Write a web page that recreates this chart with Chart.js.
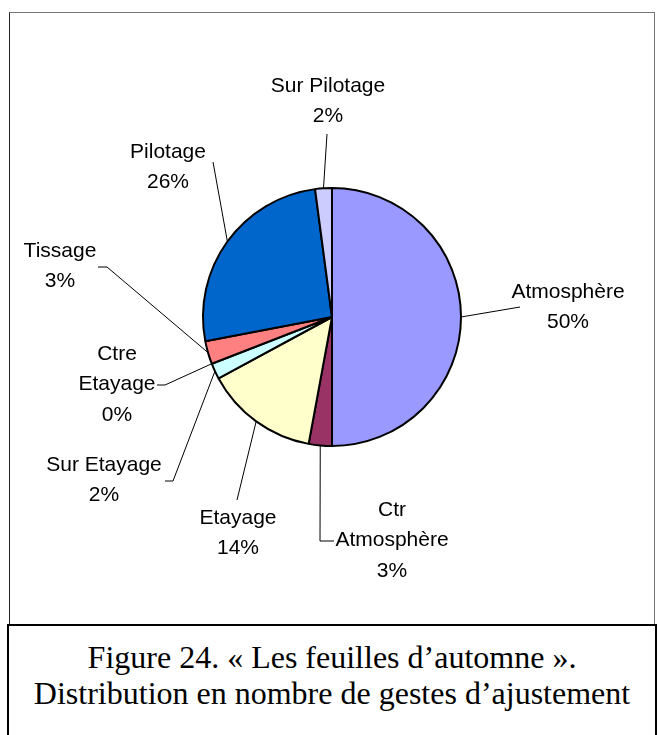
<!DOCTYPE html>
<html>
<head>
<meta charset="utf-8">
<script src="https://cdn.jsdelivr.net/npm/chart.js@4"></script>
<style>
  html, body { margin: 0; padding: 0; background: #fff; }
  #wrap { position: relative; width: 659px; height: 735px; overflow: hidden; background: #fff; }
  #c { position: absolute; left: 0; top: 0; }
  #frame { position: absolute; left: 9px; top: 12px; width: 646px; height: 613px; border: 1px solid #777; border-left-color: #222; box-sizing: border-box; }
  #caption { position: absolute; left: 7px; top: 624px; width: 650px; height: 130px; border: 2px solid #000; box-sizing: border-box; background: #fff;
    font-family: "Liberation Serif", "Times New Roman", serif; font-size: 32px; line-height: 36px; text-align: center; color: #000; padding-top: 13px; white-space: nowrap; }
</style>
</head>
<body>
<div id="wrap">
  <div id="frame"></div>
  <canvas id="c" width="659" height="735"></canvas>
  <div id="caption">Figure 24. « Les feuilles d’automne ».<br>Distribution en nombre de gestes d’ajustement</div>
</div>
<script>
// ---- data ----
const categories = ["Atmosphère", "Ctr Atmosphère", "Etayage", "Sur Etayage", "Ctre Etayage", "Tissage", "Pilotage", "Sur Pilotage"];
const values = [50, 2.9, 14.2, 2.0, 0, 2.9, 25.9, 2.1];
// label text lines (category name split as in the chart)
const labelLines = [
  ["Atmosphère"], ["Ctr", "Atmosphère"], ["Etayage"], ["Sur Etayage"],
  ["Ctre", "Etayage"], ["Tissage"], ["Pilotage"], ["Sur Pilotage"]
];
const colors = ["#9999FF", "#993366", "#FFFFCC", "#CCFFFF", "#660066", "#FF8080", "#0066CC", "#CCCCFF"];

// ---- label placement (layout only) ----
const labelPos = [
  { x: 568, y: 292, lead: [[520, 307]] },
  { x: 392, y: 510, lead: [[334, 541], [320, 541]] },
  { x: 238, y: 518, lead: [[237, 500]] },
  { x: 104, y: 465, lead: [[165, 481], [173, 481]] },
  { x: 117, y: 354, lead: [[157, 385], [165, 385]] },
  { x: 60,  y: 251, lead: [[98, 267], [107, 267]] },
  { x: 168, y: 152, lead: [[213, 162]] },
  { x: 328, y: 86,  lead: [[327, 134]] }
];
const lineH = 30.5;

const labelPlugin = {
  id: 'excelLabels',
  afterDatasetsDraw(chart) {
    const ctx = chart.ctx;
    const meta = chart.getDatasetMeta(0);
    const data = chart.data.datasets[0].data;
    const total = data.reduce((a, b) => a + b, 0);
    ctx.save();
    // leader lines
    ctx.strokeStyle = "#000";
    ctx.lineWidth = 1;
    meta.data.forEach((arc, i) => {
      const p = arc.getProps(['x', 'y', 'startAngle', 'endAngle', 'outerRadius'], true);
      const mid = (p.startAngle + p.endAngle) / 2;
      const ex = p.x + Math.cos(mid) * p.outerRadius;
      const ey = p.y + Math.sin(mid) * p.outerRadius;
      const pts = labelPos[i].lead;
      ctx.beginPath();
      ctx.moveTo(pts[0][0], pts[0][1]);
      for (let k = 1; k < pts.length; k++) ctx.lineTo(pts[k][0], pts[k][1]);
      ctx.lineTo(ex, ey);
      ctx.stroke();
    });
    // texts
    ctx.fillStyle = "#000";
    ctx.font = '21px "Liberation Sans", Arial, sans-serif';
    ctx.textAlign = 'center';
    ctx.textBaseline = 'middle';
    meta.data.forEach((arc, i) => {
      const lines = labelLines[i].concat([Math.round(data[i] / total * 100) + "%"]);
      lines.forEach((t, k) => ctx.fillText(t, labelPos[i].x, labelPos[i].y + k * lineH));
    });
    ctx.restore();
  }
};

new Chart(document.getElementById('c'), {
  type: 'pie',
  data: {
    labels: categories,
    datasets: [{
      data: values,
      backgroundColor: colors,
      borderColor: "#000",
      borderWidth: 2,
      hoverOffset: 0
    }]
  },
  options: {
    responsive: false,
    animation: false,
    events: [],
    layout: { padding: { left: 202, right: 197, top: 187, bottom: 288 } },
    plugins: { legend: { display: false }, tooltip: { enabled: false } }
  },
  plugins: [labelPlugin]
});
</script>
</body>
</html>
